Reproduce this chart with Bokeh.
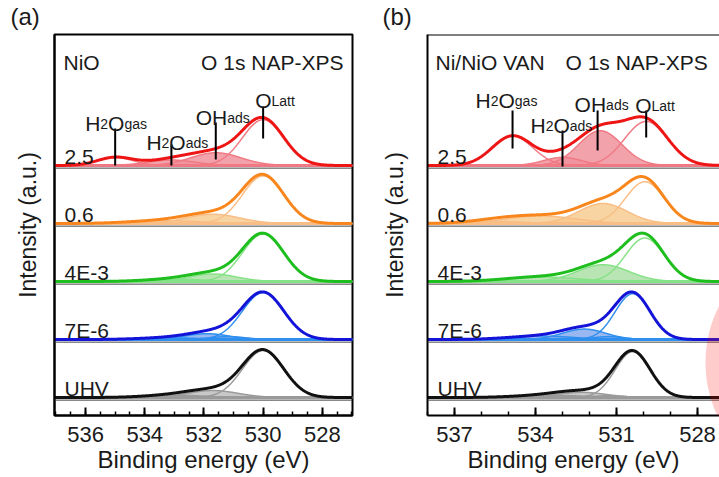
import numpy as np
from bokeh.plotting import figure
from bokeh.layouts import row
from bokeh.models import Range1d, Label, Span, SingleIntervalTicker, FixedTicker, PolyAnnotation
from bokeh.embed import file_html
from bokeh.resources import INLINE

FONT = "Liberation Sans"
TXT = "#1a1a1a"

# ------------------------------------------------------------------ data
CONDITIONS = ["UHV", "7E-6", "4E-3", "0.6", "2.5"]          # bottom -> top
PEAK_LABELS = [("H", "2", "O", "gas"), ("H", "2", "O", "ads"), ("OH", "ads"), ("O", "Latt")]

# (a) NiO : fitted components (centre eV, height, gaussian sigma eV) per condition
NIO_CENTER = [
    [530.0, 531.7, 533.0],
    [530.0, 531.9, 531.2, 533.2],
    [530.0, 531.7, 533.0],
    [530.0, 531.7, 533.3],
    [530.0, 531.6, 533.1, 535.0],
]
NIO_HEIGHT = [
    [0.81, 0.12, 0.04],
    [0.81, 0.10, 0.05, 0.03],
    [0.82, 0.13, 0.04],
    [0.82, 0.16, 0.05],
    [0.79, 0.22, 0.095, 0.14],
]
NIO_SIGMA = [
    [0.70, 0.85, 1.0],
    [0.70, 0.75, 0.6, 1.0],
    [0.70, 0.80, 1.0],
    [0.70, 0.90, 1.2],
    [0.70, 0.85, 0.8, 0.6],
]
NIO_MARK_E = [535.0, 533.1, 531.6, 530.0]

# (b) Ni/NiO VAN
VAN_CENTER = [
    [530.4, 532.3, 531.3, 533.5],
    [530.4, 532.2, 531.3, 533.8],
    [529.95, 531.5, 533.8],
    [529.95, 531.5, 533.8, 535.5],
    [529.9, 531.6, 533.0, 534.85],
]
VAN_HEIGHT = [
    [0.79, 0.09, 0.03, 0.04],
    [0.79, 0.18, 0.05, 0.06],
    [0.75, 0.29, 0.08],
    [0.72, 0.345, 0.13, 0.04],
    [0.76, 0.60, 0.14, 0.51],
]
VAN_SIGMA = [
    [0.65, 0.9, 0.6, 1.2],
    [0.65, 0.8, 0.55, 1.2],
    [0.72, 0.95, 1.3],
    [0.72, 0.9, 1.3, 1.0],
    [0.80, 0.8, 0.7, 0.75],
]
VAN_MARK_E = [534.85, 533.0, 531.7, 529.9]

# ------------------------------------------------------------------ styles
DATA_COL = ["#111111", "#1414D8", "#1EBE1E", "#F8861C", "#EE1515"]
COMP_COL = ["#9A9A9A", "#2F8FEF", "#86E286", "#F8BE86", "#F07A84"]
FILL_COL = ["#B5B5B5", "#7FA6EE", "#A6DFA0", "#F8C98C", "#F0929C"]
FILL_ALPHA = [0.75, 0.8, 0.8, 0.8, 0.85]
NIO_FILLED = [[0, 1, 1], [0, 1, 1, 1], [0, 1, 1], [0, 1, 1], [0, 1, 1, 0]]
VAN_FILLED = [[0, 1, 1, 1], [0, 1, 1, 1], [0, 1, 1], [0, 1, 1, 0], [0, 1, 1, 0]]

# layout (page pixels)
FRAME_TOP, FRAME_BOTTOM = 34, 415
PX_UNIT = 58.0            # pixels between stacked spectra
BASE0 = 0.31              # offset of lowest spectrum
YTOP = (FRAME_BOTTOM - FRAME_TOP) / PX_UNIT

BIG, SMALL = 21, 14
ADV = {"H": 0.722, "O": 0.778, "2": 0.556, "OH": 1.5}


def ydat(sy):
    return (FRAME_BOTTOM - np.asarray(sy)) / PX_UNIT


def gauss(x, c, h, s):
    return h * np.exp(-0.5 * ((x - c) / s) ** 2)


def build(x0, x1, left, right, fig_w, ticker, centers, heights, sigmas, filled,
          marks, mark_geo, texts, label_left, tag, ylab_standoff, rings=(), outline=True):
    frame_w = fig_w - left - right
    ppe = frame_w / (x0 - x1)
    left_page = texts["page_left"]

    def xdat(sx):
        return x0 - (np.asarray(sx) - left_page) / ppe

    p = figure(width=fig_w, height=477, output_backend="svg", toolbar_location=None,
               x_range=Range1d(x0, x1), y_range=Range1d(0, YTOP),
               min_border_left=left, min_border_right=right,
               min_border_top=FRAME_TOP, min_border_bottom=477 - FRAME_BOTTOM)
    p.xgrid.visible = False
    p.ygrid.visible = False
    p.background_fill_color = "white"
    p.border_fill_color = "white"
    if outline:
        p.outline_line_color = "black"
        p.outline_line_width = 2
    else:
        p.outline_line_color = None
        p.add_layout(Span(location=YTOP, dimension="width", line_color="black", line_width=2))

    # panel tag "(a)" / "(b)" as title
    p.title.text = tag
    p.title.text_font = FONT
    p.title.text_font_size = "24px"
    p.title.text_font_style = "normal"
    p.title.text_color = TXT
    p.title.align = "left"
    p.title.vertical_align = "top"
    p.title.offset = -(left_page - texts["tag_left"])
    p.title.standoff = 5

    xa = p.xaxis[0]
    xa.ticker = ticker
    xa.major_tick_in = 8
    xa.major_tick_out = 0
    xa.minor_tick_in = 4
    xa.minor_tick_out = 0
    xa.major_tick_line_width = 2
    xa.minor_tick_line_width = 1.5
    xa.axis_line_width = 2
    xa.major_label_text_font = FONT
    xa.major_label_text_font_size = "22px"
    xa.major_label_text_color = TXT
    xa.major_label_standoff = 11
    xa.axis_label = "Binding energy (eV)"
    xa.axis_label_text_font = FONT
    xa.axis_label_text_font_size = "24px"
    xa.axis_label_text_font_style = "normal"
    xa.axis_label_text_color = TXT
    xa.axis_label_standoff = 1

    ya = p.yaxis[0]
    ya.ticker = FixedTicker(ticks=[])
    ya.major_tick_line_color = None
    ya.minor_tick_line_color = None
    ya.axis_line_width = 2
    ya.axis_label = "Intensity (a.u.)"
    ya.axis_label_text_font = FONT
    ya.axis_label_text_font_size = "23px"
    ya.axis_label_text_font_style = "normal"
    ya.axis_label_text_color = TXT
    ya.axis_label_standoff = ylab_standoff

    x = np.linspace(min(x0, x1), max(x0, x1), 700)
    for i, cond in enumerate(CONDITIONS):
        off = BASE0 + i
        comps = [gauss(x, c, h, s) for c, h, s in zip(centers[i], heights[i], sigmas[i])]
        total = off + np.sum(comps, axis=0)
        p.add_layout(Span(location=off - 0.045, dimension="width", line_color="#444444", line_width=1))
        for g, f in zip(comps, filled[i]):
            if f:
                p.varea(x=x, y1=np.full_like(x, off), y2=off + g, fill_color=FILL_COL[i],
                        fill_alpha=FILL_ALPHA[i])
        p.line([x[0], x[-1]], [off, off], line_color=COMP_COL[i], line_width=3)
        for g in comps:
            p.line(x, off + g, line_color=COMP_COL[i], line_width=1.5)
        p.line(x, total, line_color=DATA_COL[i], line_width=3)
        p.add_layout(Label(x=float(xdat(label_left)), y=off + 9 / PX_UNIT, text=cond, text_font=FONT,
                           text_font_size="21px", text_color=TXT, text_baseline="alphabetic"))

    # peak markers on the top spectrum
    top = BASE0 + len(CONDITIONS) - 1
    for e, lab, (ylo, yhi, ylab, dx) in zip(marks, PEAK_LABELS, mark_geo):
        p.segment(x0=[e], y0=[top + ylo / PX_UNIT], x1=[e], y1=[top + yhi / PX_UNIT],
                  line_color="black", line_width=2)
        xo = dx
        for piece in lab:
            big = piece in ("H", "O", "OH")
            size = BIG if big else SMALL
            p.add_layout(Label(x=e, y=top + ylab / PX_UNIT, x_offset=xo, text=piece,
                               text_font=FONT, text_font_size=f"{size}px", text_color=TXT,
                               text_baseline="alphabetic"))
            xo += ADV.get(piece, 0) * size

    for t, sx, sy, size, align in texts["items"]:
        p.add_layout(Label(x=float(xdat(sx)), y=float(ydat(sy)), text=t, text_font=FONT,
                           text_font_size=f"{size}px", text_color=TXT,
                           text_baseline="alphabetic", text_align=align))

    # watermark arc (page pixels: centre, inner r, outer r, start/end angle)
    for cx, cy, r_in, r_out, a0, a1 in rings:
        t = np.linspace(a0, a1, 200)
        sxs = np.concatenate([cx + r_out * np.cos(t), cx + r_in * np.cos(t[::-1])])
        sys_ = np.concatenate([cy - r_out * np.sin(t), cy - r_in * np.sin(t[::-1])])
        p.add_layout(PolyAnnotation(xs=list(xdat(sxs)), ys=list(ydat(sys_)),
                                    fill_color="#FF0000", fill_alpha=0.2, line_color=None))
    return p


pa = build(537.05, 526.98, 54, 8, 360, SingleIntervalTicker(interval=2, num_minor_ticks=4),
           NIO_CENTER, NIO_HEIGHT, NIO_SIGMA, NIO_FILLED, NIO_MARK_E,
           [(0, 37, 42, -30), (0, 21, 23, -25), (6, 43, 48, -20), (27, 59, 65, -8)],
           {"page_left": 54, "tag_left": 10,
            "items": [("NiO", 63, 62, 21, "left"),
                      ("O 1s NAP-XPS", 343, 62, 21, "right")]},
           64, "(a)", 14)

pb = build(538.0, 538.0 - 292 / 27.0, 67, 0, 359, SingleIntervalTicker(interval=3, num_minor_ticks=3),
           VAN_CENTER, VAN_HEIGHT, VAN_SIGMA, VAN_FILLED, VAN_MARK_E,
           [(17, 55, 65, -37), (-1, 35, 40, -32), (15, 55, 61, -23), (28, 55, 60, -11)],
           {"page_left": 427, "tag_left": 382,
            "items": [("Ni/NiO VAN", 435, 62, 21, "left"),
                      ("O 1s NAP-XPS", 565, 62, 21, "left")]},
           437, "(b)", 20,
           rings=[(830, 362, 100, 125, np.pi / 2, 3 * np.pi / 2)],
           outline=False)

layout = row(pa, pb)
open("out.html", "w").write(file_html(layout, INLINE))
